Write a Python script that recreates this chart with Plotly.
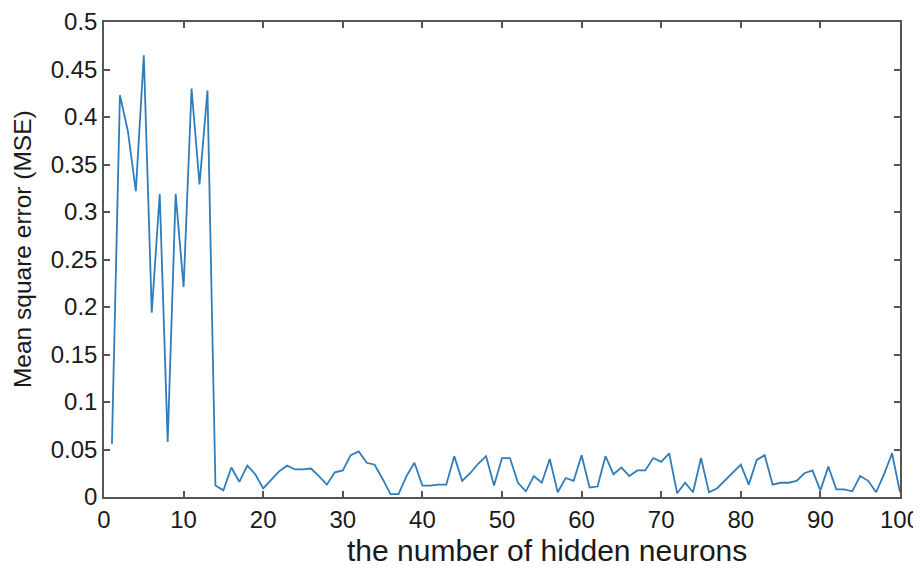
import plotly.graph_objects as go

neurons = list(range(1, 101))
mse = [
    0.056, 0.423, 0.385, 0.322, 0.465, 0.194, 0.319, 0.058, 0.319, 0.221,
    0.430, 0.329, 0.428, 0.012, 0.007, 0.031, 0.016, 0.033, 0.024, 0.009,
    0.018, 0.027, 0.033, 0.029, 0.029, 0.030, 0.022, 0.013, 0.026, 0.028,
    0.044, 0.048, 0.036, 0.034, 0.019, 0.003, 0.003, 0.022, 0.036, 0.012,
    0.012, 0.013, 0.013, 0.043, 0.017, 0.025, 0.035, 0.043, 0.012, 0.041,
    0.041, 0.015, 0.006, 0.022, 0.015, 0.040, 0.005, 0.020, 0.017, 0.044,
    0.010, 0.011, 0.043, 0.024, 0.031, 0.022, 0.028, 0.028, 0.041, 0.037,
    0.046, 0.004, 0.015, 0.005, 0.041, 0.005, 0.009, 0.017, 0.025, 0.034,
    0.013, 0.039, 0.044, 0.013, 0.015, 0.015, 0.017, 0.025, 0.028, 0.007,
    0.032, 0.008, 0.008, 0.006, 0.022, 0.017, 0.005, 0.024, 0.046, 0.005,
]
x_ticks = [0, 10, 20, 30, 40, 50, 60, 70, 80, 90, 100]
y_ticks = [0, 0.05, 0.1, 0.15, 0.2, 0.25, 0.3, 0.35, 0.4, 0.45, 0.5]
y_tick_labels = ["0", "0.05", "0.1", "0.15", "0.2", "0.25", "0.3", "0.35", "0.4", "0.45", "0.5"]
x_title = "the number of hidden neurons"
y_title = "Mean square error (MSE)"

fam = "Liberation Sans, Arial, sans-serif"
tick_font = dict(family=fam, size=24, color="#1a1a1a")
xtitle_font = dict(family=fam, size=30, color="#1a1a1a")
ytitle_font = dict(family=fam, size=24.5, color="#1a1a1a")

fig = go.Figure()
fig.add_trace(go.Scatter(
    x=neurons, y=mse, mode="lines",
    line=dict(color="#2f7dbb", width=1.8),
    showlegend=False,
))

axis_common = dict(
    showgrid=False, zeroline=False, automargin=False,
    showline=True, linecolor="#555555", linewidth=1.5, mirror="ticks",
    ticks="inside", ticklen=6, tickwidth=1.5, tickcolor="#555555",
    tickfont=tick_font, ticklabeloverflow="allow",
)
# page body has an 8px margin, so margins are shifted to compensate
fig.update_layout(
    width=921, height=570,
    margin=dict(l=96, r=29, t=14, b=81),
    paper_bgcolor="white", plot_bgcolor="white",
    font=tick_font,
    xaxis=dict(range=[0, 100], tickvals=x_ticks, **axis_common),
    yaxis=dict(range=[0, 0.5], tickvals=y_ticks, ticktext=y_tick_labels, **axis_common),
    annotations=[
        dict(text=x_title, xref="paper", yref="paper", x=0.5565, y=0,
             xanchor="center", yanchor="middle", yshift=-53,
             showarrow=False, font=xtitle_font),
        dict(text=y_title, xref="paper", yref="paper", x=0, y=0.522,
             xanchor="center", yanchor="middle", xshift=-82, textangle=-90,
             showarrow=False, font=ytitle_font),
    ],
)
fig.write_html("out.html")
